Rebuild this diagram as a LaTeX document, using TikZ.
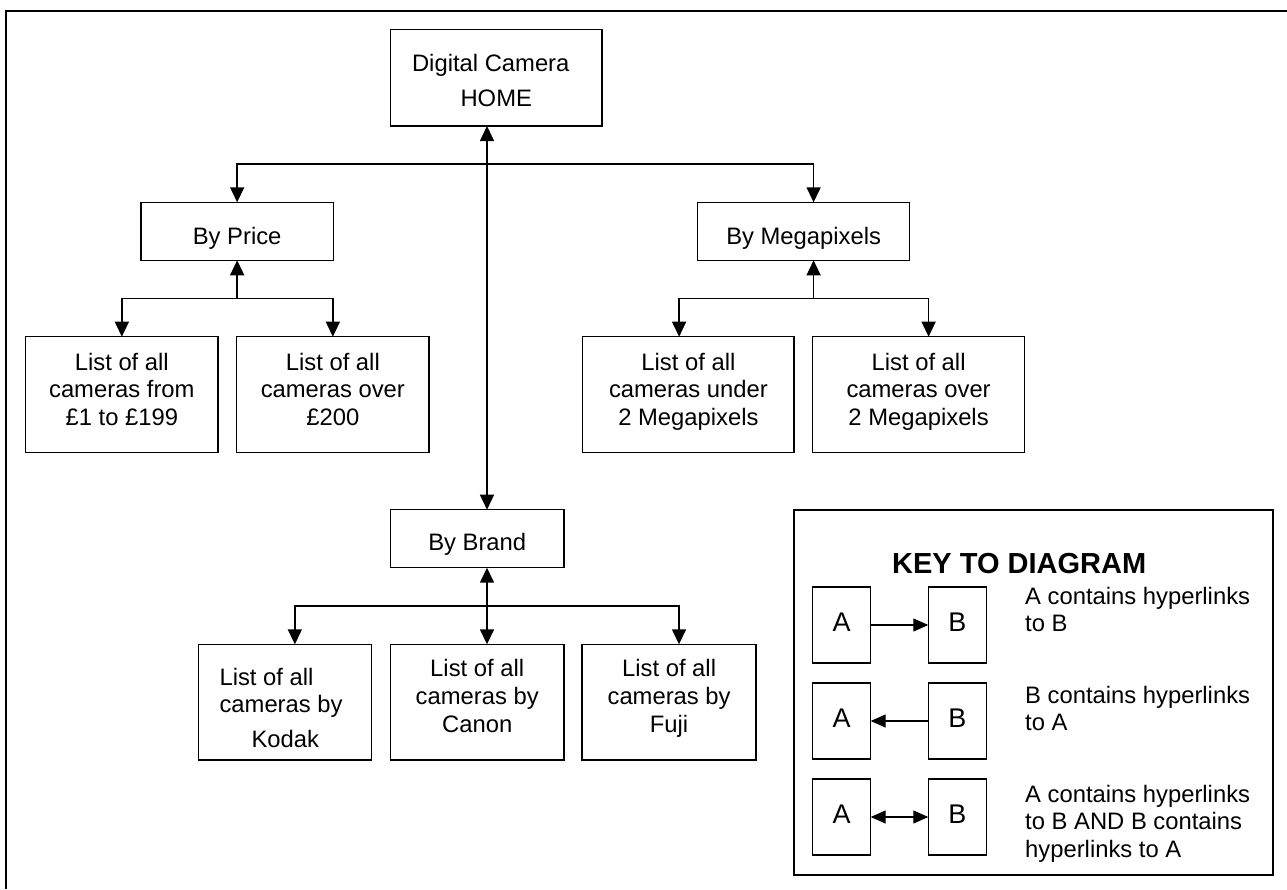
\documentclass[tikz,border=0pt]{standalone}
\usepackage{fontspec}
\setmainfont{Liberation Sans}
\usetikzlibrary{arrows.meta}
% stacked lines inside a box: centred or left aligned, first baseline on top
\newcommand\clines[1]{\begin{tabular}[t]{@{}c@{}}#1\end{tabular}}
\newcommand\llines[1]{\begin{tabular}[t]{@{}l@{}}#1\end{tabular}}
\begin{document}
\begin{tikzpicture}[x=1pt,y=-1pt,
  >={Triangle[length=15pt,width=14pt]},
  txt/.style={font=\fontsize{23.8}{27.8}\selectfont},
  box/.style={txt, draw, line width=1.5pt, anchor=north west,
              inner sep=0pt, outer sep=0pt},
  tb/.style 2 args={text height=#1, text depth=#2},
  link/.style={line width=1.5pt},
  keylink/.style={line width=1.1pt, >={Triangle[length=15pt,width=13pt]}},
  kbox/.style={draw, line width=1.5pt, anchor=north west, inner sep=0pt,
               outer sep=0pt, minimum width=58pt, minimum height=76pt,
               font=\fontsize{27}{32}\selectfont, tb={20pt}{6.6pt}},
  keytext/.style={txt, anchor=base west, inner sep=0pt},
]
\useasboundingbox (0,0) rectangle (1287,889);

% page frame
\draw[line width=1.6pt] (6,889) -- (6,10.7) -- (1287,10.7);

% ---------- site map ----------
\node[box, minimum width=211.5pt, minimum height=96.3pt, tb={6pt}{19.7pt},
      font=\fontsize{23.8}{35}\selectfont] (home) at (390.5,29.7)
      {\clines{Digital Camera\hspace*{11pt}\\HOME}};

\node[box, minimum width=192.3pt, minimum height=58pt, tb={30pt}{4pt}]
      (price) at (141,202.3) {By Price};
\node[box, minimum width=211.9pt, minimum height=58pt, tb={30pt}{4pt}]
      (mp) at (697.7,202.3) {By Megapixels};

\node[box, minimum width=192.3pt, minimum height=115.6pt, tb={5pt}{54pt}]
      (p1) at (25.7,336.7) {\clines{List of all\\cameras from\\£1 to £199}};
\node[box, minimum width=192.3pt, minimum height=115.6pt, tb={5pt}{54pt}]
      (p2) at (236.7,336.7) {\clines{List of all\\cameras over\\£200}};
\node[box, minimum width=211.4pt, minimum height=115.6pt, tb={5pt}{54pt}]
      (mp1) at (582.7,336.7) {\clines{List of all\\cameras under\\2 Megapixels}};
\node[box, minimum width=211.8pt, minimum height=115.6pt, tb={5pt}{54pt}]
      (mp2) at (812.7,336.7) {\clines{List of all\\cameras over\\2 Megapixels}};

\node[box, minimum width=173.4pt, minimum height=58pt, tb={28pt}{4pt}]
      (brand) at (390.5,509.7) {By Brand};

\node[box, minimum width=173.3pt, minimum height=115.7pt, tb={5pt}{39.3pt}]
      (b1) at (198.4,644.3)
      {\llines{List of all\\cameras by\hspace*{8pt}\\[7pt]\hspace*{32pt}Kodak}};
\node[box, minimum width=173.4pt, minimum height=115.7pt, tb={5pt}{55.9pt}]
      (b2) at (390.5,644.3) {\clines{List of all\\cameras by\\Canon}};
\node[box, minimum width=173.8pt, minimum height=115.7pt, tb={5pt}{55.9pt}]
      (b3) at (582.2,644.3) {\clines{List of all\\cameras by\\Fuji}};

% links from the home page
\coordinate (hj) at (487,164);
\coordinate (mx) at (813.6,164);
\draw[link,<->] (home.south -| hj) -- (brand.north -| hj);
\draw[link,->] (hj) -| (price.north);
\draw[link,->] (hj) -- (mx) -- (mx |- mp.north);

% price pages
\coordinate (pj) at (237.15,298.7);
\draw[link,->] (pj) -- (price.south);
\draw[link,->] (pj) -| (p1.north);
\draw[link,->] (pj) -| (p2.north);

% megapixel pages
\coordinate (mj) at (813.6,298.7);
\draw[link,->] (mj) -- (mj |- mp.south);
\draw[link,->] (mj) -| ([xshift=-9.3pt]mp1.north);
\draw[link,->] (mj) -| ([xshift=10pt]mp2.north);

% brand pages
\coordinate (bj) at (487,606);
\draw[link,<->] (bj |- brand.south) -- (bj |- b2.north);
\draw[link,->] (bj) -| ([xshift=9.8pt]b1.north);
\draw[link,->] (bj) -| ([xshift=9.9pt]b3.north);

% ---------- key ----------
\node[draw, line width=1.5pt, anchor=north west, inner sep=0pt, outer sep=0pt,
      minimum width=479pt, minimum height=365pt] (key) at (794,510) {};
\node[font=\bfseries\fontsize{29}{34}\selectfont, anchor=base, inner sep=0pt]
      (keytitle) at (1019.2,573) {KEY TO DIAGRAM};

\node[kbox] (ka1) at (812.7,587) {A};
\node[kbox] (kb1) at (928.3,587) {B};
\node[kbox] (ka2) at (812.7,683) {A};
\node[kbox] (kb2) at (928.3,683) {B};
\node[kbox] (ka3) at (812.7,779) {A};
\node[kbox] (kb3) at (928.3,779) {B};

\draw[keylink,->]  (ka1.east) -- (kb1.west);
\draw[keylink,<-]  (ka2.east) -- (kb2.west);
\draw[keylink,<->] (ka3.east) -- (kb3.west);

\node[keytext] (kt1) at (1025,604) {\llines{A contains hyperlinks\\to B}};
\node[keytext] (kt2) at (1025,703) {\llines{B contains hyperlinks\\to A}};
\node[keytext] (kt3) at (1025,802)
      {\llines{A contains hyperlinks\\to B AND B contains\\hyperlinks to A}};
\end{tikzpicture}
\end{document}
